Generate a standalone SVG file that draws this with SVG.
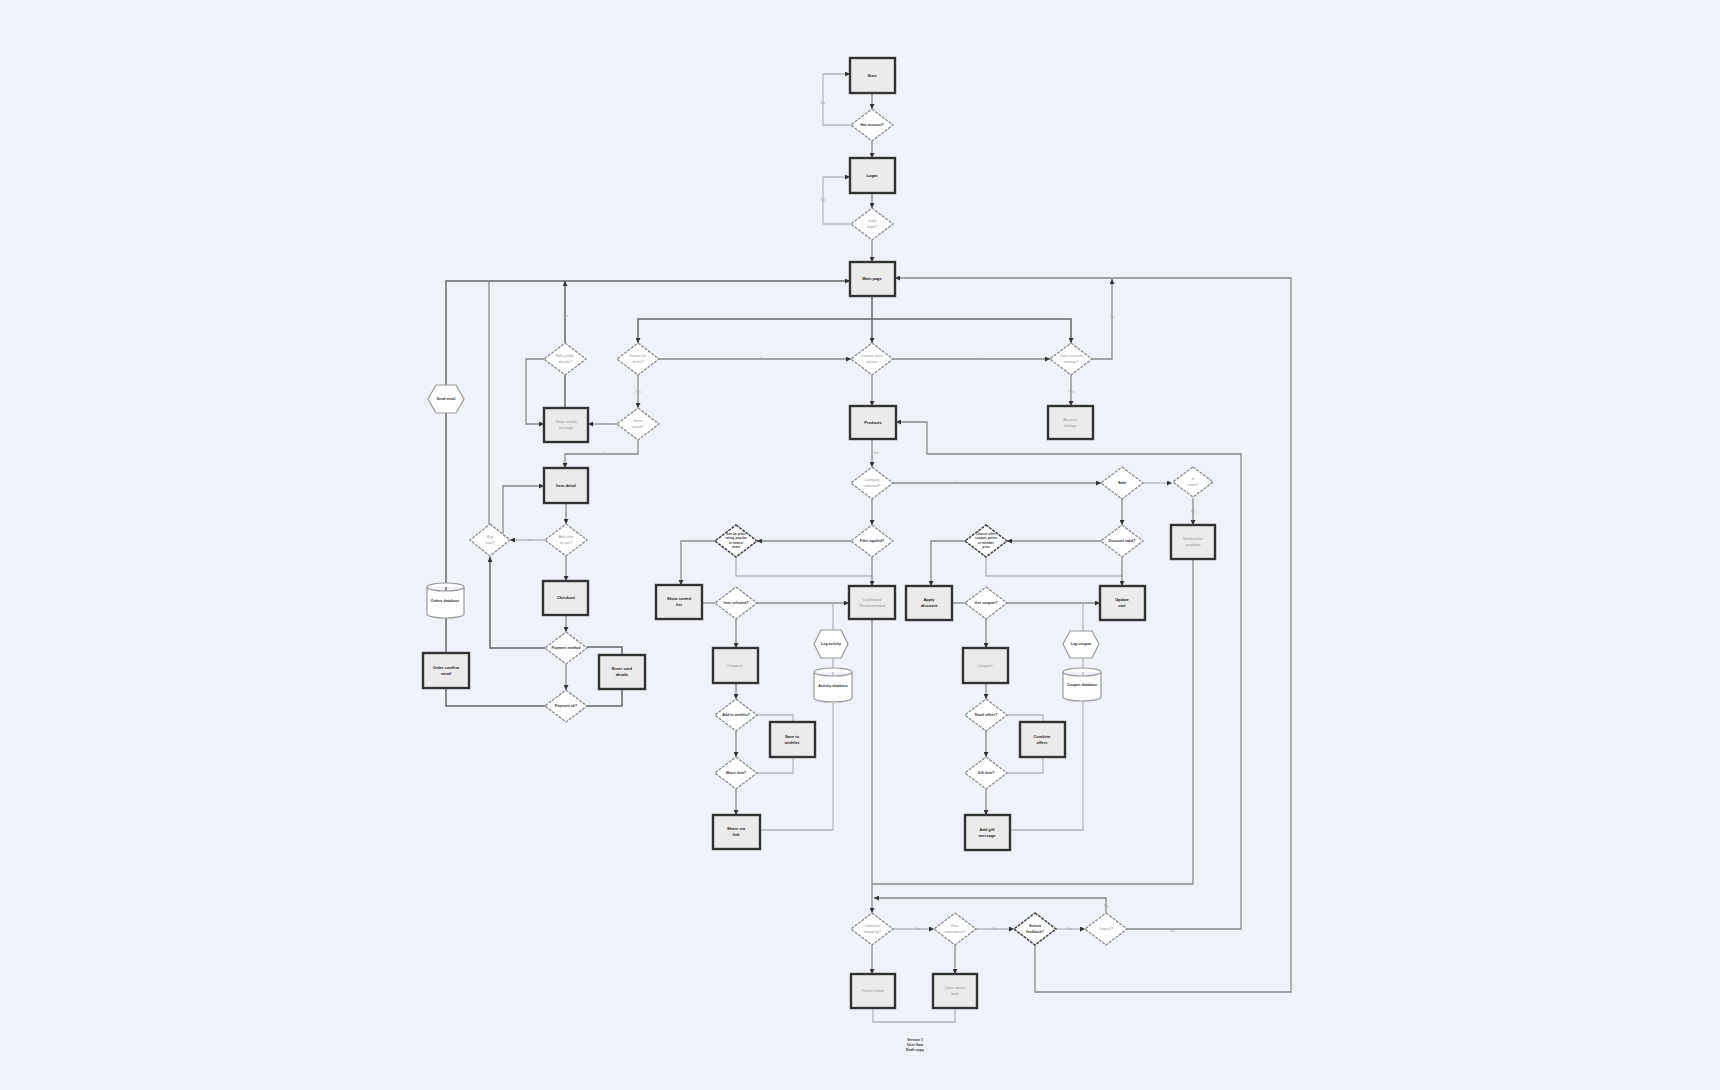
<svg xmlns="http://www.w3.org/2000/svg" width="1720" height="1090" viewBox="0 0 1720 1090">
<defs>
<marker id="ar" viewBox="0 0 6 6" refX="6" refY="3" markerWidth="5" markerHeight="5" markerUnits="userSpaceOnUse" orient="auto"><path d="M0,0 L6,3 L0,6 z" fill="#333"/></marker>
<style>
.box{fill:#ebebeb;stroke:#333;stroke-width:2.4}
.dia{fill:#fff;stroke:#8c8c8c;stroke-width:1.3;stroke-dasharray:3 1.2}
.diab{fill:#fff;stroke:#444;stroke-width:1.5;stroke-dasharray:3 1}
.hex,.cyl{fill:#fff;stroke:#999;stroke-width:1.2}
.ln{fill:none;stroke:#8a8a8a;stroke-width:1.3}
.lnd{fill:none;stroke:#666;stroke-width:1.5}
.lnl{fill:none;stroke:#b4b8bf;stroke-width:1.3}
text{font-family:"Liberation Sans",Arial,sans-serif;text-anchor:middle;dominant-baseline:middle}
.tb{font-size:4px;font-weight:bold;fill:#222}
.tg{font-size:3.8px;fill:#999}
.td{font-size:3.6px;font-weight:bold;fill:#333}
.ts{font-size:3.1px;font-weight:bold;fill:#333}
.lb{font-size:3.6px;fill:#aaa}
</style>
</defs>
<rect width="1720" height="1090" fill="#eff2f8"/>

<g id="connectors">
<path class="ln" d="M872,93 V109" marker-end="url(#ar)"/>
<path class="lnl" d="M851,125 H823 V74 H850" marker-end="url(#ar)"/>
<path class="ln" d="M872,141 V158" marker-end="url(#ar)"/>
<path class="ln" d="M872,193 V208" marker-end="url(#ar)"/>
<path class="lnl" d="M851,224 H823 V177 H850" marker-end="url(#ar)"/>
<path class="ln" d="M872,240 V262" marker-end="url(#ar)"/>
<path class="lnd" d="M872,296 V343" marker-end="url(#ar)"/>
<path class="lnd" d="M872,319 H638 V343" marker-end="url(#ar)"/>
<path class="lnd" d="M872,319 H1071 V343" marker-end="url(#ar)"/>
<path class="lnd" d="M446,653 V281 H850" marker-end="url(#ar)"/>
<path class="ln" d="M489,524 V281"/>
<path class="lnd" d="M565,343 V281" marker-end="url(#ar)"/>
<path class="lnd" d="M565,375 V408"/>
<path class="ln" d="M544,359 H526 V424 H544" marker-end="url(#ar)"/>
<path class="ln" d="M638,375 V408" marker-end="url(#ar)"/>
<path class="ln" d="M617,424 H588" marker-end="url(#ar)"/>
<path class="ln" d="M638,440 V454 H565 V468" marker-end="url(#ar)"/>
<path class="ln" d="M659,359 H851" marker-end="url(#ar)"/>
<path class="ln" d="M893,359 H1050" marker-end="url(#ar)"/>
<path class="ln" d="M1092,359 H1112 V279" marker-end="url(#ar)"/>
<path class="ln" d="M1071,375 V406" marker-end="url(#ar)"/>
<path class="ln" d="M1035,945 V992 H1291 V278 H895" marker-end="url(#ar)"/>
<path class="ln" d="M872,375 V406" marker-end="url(#ar)"/>
<path class="ln" d="M872,439 V467" marker-end="url(#ar)"/>
<path class="ln" d="M893,483 H1101" marker-end="url(#ar)"/>
<path class="lnl" d="M1143,483 H1172" marker-end="url(#ar)"/>
<path class="ln" d="M1193,498 V525" marker-end="url(#ar)"/>
<path class="ln" d="M1193,559 V884 H872"/>
<path class="ln" d="M1122,499 V525" marker-end="url(#ar)"/>
<path class="ln" d="M872,499 V525" marker-end="url(#ar)"/>
<path class="ln" d="M851,541 H757" marker-end="url(#ar)"/>
<path class="ln" d="M715,541 H681 V585" marker-end="url(#ar)"/>
<path class="lnl" d="M736,557 V576 H872"/>
<path class="ln" d="M872,557 V586" marker-end="url(#ar)"/>
<path class="ln" d="M702,603 H715"/>
<path class="ln" d="M757,603 H849" marker-end="url(#ar)"/>
<path class="ln" d="M736,619 V648" marker-end="url(#ar)"/>
<path class="ln" d="M736,683 V699" marker-end="url(#ar)"/>
<path class="lnl" d="M757,715 H793 V722"/>
<path class="lnl" d="M757,773 H793 V757"/>
<path class="ln" d="M736,731 V757" marker-end="url(#ar)"/>
<path class="ln" d="M736,789 V815" marker-end="url(#ar)"/>
<path class="lnl" d="M833,603 V830 H760"/>
<path class="ln" d="M872,619 V913" marker-end="url(#ar)"/>
<path class="ln" d="M1101,541 H1007" marker-end="url(#ar)"/>
<path class="ln" d="M965,541 H931 V586" marker-end="url(#ar)"/>
<path class="lnl" d="M986,557 V576 H1122"/>
<path class="ln" d="M1122,557 V586" marker-end="url(#ar)"/>
<path class="ln" d="M952,603 H965"/>
<path class="ln" d="M1006,603 H1100" marker-end="url(#ar)"/>
<path class="ln" d="M986,619 V648" marker-end="url(#ar)"/>
<path class="ln" d="M986,683 V699" marker-end="url(#ar)"/>
<path class="lnl" d="M1007,715 H1043 V722"/>
<path class="lnl" d="M1007,773 H1043 V757"/>
<path class="ln" d="M986,731 V757" marker-end="url(#ar)"/>
<path class="ln" d="M986,789 V815" marker-end="url(#ar)"/>
<path class="lnl" d="M1083,603 V830 H1010"/>
<path class="ln" d="M566,503 V524" marker-end="url(#ar)"/>
<path class="lnl" d="M545,540 H510" marker-end="url(#ar)"/>
<path class="ln" d="M503,534 V486 H544" marker-end="url(#ar)"/>
<path class="ln" d="M566,556 V581" marker-end="url(#ar)"/>
<path class="ln" d="M566,615 V632" marker-end="url(#ar)"/>
<path class="lnd" d="M545,648 H490 V557" marker-end="url(#ar)"/>
<path class="lnd" d="M587,647 H622 V655"/>
<path class="lnd" d="M587,706 H622 V689"/>
<path class="ln" d="M566,664 V690" marker-end="url(#ar)"/>
<path class="lnd" d="M545,706 H446 V688"/>
<path class="ln" d="M1106,913 V898 H874" marker-end="url(#ar)"/>
<path class="lnl" d="M893,929 H934" marker-end="url(#ar)"/>
<path class="lnl" d="M976,929 H1014" marker-end="url(#ar)"/>
<path class="lnl" d="M1056,929 H1085" marker-end="url(#ar)"/>
<path class="ln" d="M1126,929 H1241 V454 H927 V422 H896" marker-end="url(#ar)"/>
<path class="ln" d="M872,945 V974" marker-end="url(#ar)"/>
<path class="ln" d="M955,945 V974" marker-end="url(#ar)"/>
<path class="lnl" d="M873,1008 V1022 H955 V1008"/>
<text class="lb" x="823" y="103">No</text>
<text class="lb" x="823" y="200">No</text>
<text class="lb" x="565" y="316">Yes</text>
<text class="lb" x="638" y="392">Yes</text>
<text class="lb" x="607" y="424">Yes</text>
<text class="lb" x="605" y="454">No</text>
<text class="lb" x="762" y="359">No</text>
<text class="lb" x="980" y="359">No</text>
<text class="lb" x="1112" y="317">No</text>
<text class="lb" x="1071" y="392">Yes</text>
<text class="lb" x="530" y="540">Yes</text>
<text class="lb" x="876" y="453">Yes</text>
<text class="lb" x="958" y="483">No</text>
<text class="lb" x="1193" y="512">No</text>
<text class="lb" x="918" y="929">No</text>
<text class="lb" x="995" y="929">No</text>
<text class="lb" x="1070" y="929">No</text>
<text class="lb" x="1172" y="931">Yes</text>
<text class="lb" x="1106" y="906">No</text>
</g>

<g id="n-start"><rect class="box" x="850" y="58" width="45" height="35"/><text class="tb" x="872" y="76">Start</text></g>
<g id="n-has-account"><polygon class="dia" points="872,109 893,125 872,141 851,125"/><text class="td" x="872" y="125">Has account?</text></g>
<g id="n-login"><rect class="box" x="850" y="158" width="45" height="35"/><text class="tb" x="872" y="176">Login</text></g>
<g id="n-valid"><polygon class="dia" points="872,208 893,224 872,240 851,224"/><text class="tg" x="872" y="221">Valid</text><text class="tg" x="872" y="227">login?</text></g>
<g id="n-main"><rect class="box" x="850" y="262" width="45" height="34"/><text class="tb" x="872" y="279">Main page</text></g>

<g id="n-edit-profile"><polygon class="dia" points="565,343 586,359 565,375 544,359"/><text class="tg" x="565" y="356">Edit profile</text><text class="tg" x="565" y="362">details?</text></g>
<g id="n-search"><polygon class="dia" points="638,343 659,359 638,375 617,359"/><text class="tg" x="638" y="356">Search for</text><text class="tg" x="638" y="362">items?</text></g>
<g id="n-found"><polygon class="dia" points="638,408 659,424 638,440 617,424"/><text class="tg" x="638" y="421">Items</text><text class="tg" x="638" y="427">found?</text></g>
<g id="n-results"><rect class="box" x="544" y="408" width="44" height="34"/><text class="tg" x="566" y="422">Show results</text><text class="tg" x="566" y="428">list page</text></g>
<g id="n-item"><rect class="box" x="544" y="468" width="44" height="35"/><text class="tb" x="566" y="486">Item detail</text></g>
<g id="n-buy"><polygon class="dia" points="490,524 510,540 490,556 470,540"/><text class="tg" x="490" y="537">Buy</text><text class="tg" x="490" y="543">now?</text></g>
<g id="n-add-cart"><polygon class="dia" points="566,524 587,540 566,556 545,540"/><text class="tg" x="566" y="537">Add item</text><text class="tg" x="566" y="543">to cart?</text></g>
<g id="n-checkout"><rect class="box" x="543" y="581" width="45" height="34"/><text class="tb" x="566" y="598">Checkout</text></g>
<g id="n-pay-method"><polygon class="dia" points="566,632 587,648 566,664 545,648"/><text class="td" x="566" y="648">Payment method</text></g>
<g id="n-card"><rect class="box" x="599" y="655" width="46" height="34"/><text class="tb" x="622" y="669">Enter card</text><text class="tb" x="622" y="675">details</text></g>
<g id="n-pay-ok"><polygon class="dia" points="566,690 587,706 566,722 545,706"/><text class="td" x="566" y="706">Payment ok?</text></g>
<g id="n-confirmed"><rect class="box" x="423" y="653" width="46" height="35"/><text class="tb" x="446" y="668">Order confirm</text><text class="tb" x="446" y="674">email</text></g>
<g id="n-send-email"><polygon class="hex" points="428,399 436,385 456,385 464,399 456,413 436,413"/><text class="td" x="446" y="399">Send email</text></g>
<g id="n-orders-db"><path class="cyl" d="M427,587 A18.5,4 0 0 1 464,587 V614 A18.5,4 0 0 1 427,614 Z M427,587 A18.5,4 0 0 0 464,587"/><text class="td" x="445" y="601">Orders database</text></g>

<g id="n-section"><polygon class="dia" points="872,343 893,359 872,375 851,359"/><text class="tg" x="872" y="356">Choose main</text><text class="tg" x="872" y="362">section</text></g>
<g id="n-settings-q"><polygon class="dia" points="1071,343 1092,359 1071,375 1050,359"/><text class="tg" x="1071" y="356">Open account</text><text class="tg" x="1071" y="362">settings?</text></g>
<g id="n-settings"><rect class="box" x="1048" y="406" width="45" height="33"/><text class="tg" x="1070" y="420">Account</text><text class="tg" x="1070" y="426">settings</text></g>
<g id="n-products"><rect class="box" x="850" y="406" width="46" height="33"/><text class="tb" x="873" y="423">Products</text></g>
<g id="n-category"><polygon class="dia" points="872,467 893,483 872,499 851,483"/><text class="tg" x="872" y="480">Category</text><text class="tg" x="872" y="486">selected?</text></g>
<g id="n-sale"><polygon class="dia" points="1122,467 1143,483 1122,499 1101,483"/><text class="tb" x="1122" y="483">Sale</text></g>
<g id="n-stock"><polygon class="dia" points="1193,467 1213,482 1193,497 1173,482"/><text class="tg" x="1193" y="479">In</text><text class="tg" x="1193" y="485">stock?</text></g>
<g id="n-notify"><rect class="box" x="1171" y="525" width="44" height="34"/><text class="tg" x="1193" y="539">Notify when</text><text class="tg" x="1193" y="545">available</text></g>

<g id="n-filter"><polygon class="dia" points="872,525 893,541 872,557 851,541"/><text class="td" x="872" y="541">Filter applied?</text></g>
<g id="n-sort"><polygon class="diab" points="736,525 757,541 736,557 715,541"/><text class="ts" x="736" y="534">Sort by price,</text><text class="ts" x="736" y="538.5">rating, popular</text><text class="ts" x="736" y="543">or newest</text><text class="ts" x="736" y="547.5">items</text></g>
<g id="n-sorted"><rect class="box" x="656" y="585" width="46" height="34"/><text class="tb" x="679" y="599">Show sorted</text><text class="tb" x="679" y="605">list</text></g>
<g id="n-item-sel"><polygon class="dia" points="736,587 757,603 736,619 715,603"/><text class="td" x="736" y="603">Item selected?</text></g>
<g id="n-dashboard"><rect class="box" x="849" y="586" width="46" height="33"/><text class="tg" x="872" y="600">Dashboard</text><text class="tg" x="872" y="606">Recommended</text></g>
<g id="n-log-act"><polygon class="hex" points="814,644 821,630 841,630 848,644 841,658 821,658"/><text class="td" x="831" y="644">Log activity</text></g>
<g id="n-act-db"><path class="cyl" d="M814,672 A19,4 0 0 1 852,672 V698 A19,4 0 0 1 814,698 Z M814,672 A19,4 0 0 0 852,672"/><text class="td" x="833" y="686">Activity database</text></g>
<g id="n-compare"><rect class="box" x="713" y="648" width="45" height="35"/><text class="tg" x="735" y="666">Compare</text></g>
<g id="n-wish-q"><polygon class="dia" points="736,699 757,715 736,731 715,715"/><text class="td" x="736" y="715">Add to wishlist?</text></g>
<g id="n-wish"><rect class="box" x="770" y="722" width="45" height="35"/><text class="tb" x="792" y="737">Save to</text><text class="tb" x="792" y="743">wishlist</text></g>
<g id="n-share-q"><polygon class="dia" points="736,757 757,773 736,789 715,773"/><text class="td" x="736" y="773">Share item?</text></g>
<g id="n-share"><rect class="box" x="713" y="815" width="47" height="34"/><text class="tb" x="736" y="829">Share via</text><text class="tb" x="736" y="835">link</text></g>

<g id="n-discount-q"><polygon class="dia" points="1122,525 1143,541 1122,557 1101,541"/><text class="td" x="1122" y="541">Discount valid?</text></g>
<g id="n-offer"><polygon class="diab" points="986,525 1007,541 986,557 965,541"/><text class="ts" x="986" y="534">Choose offer,</text><text class="ts" x="986" y="538.5">coupon, points</text><text class="ts" x="986" y="543">or member</text><text class="ts" x="986" y="547.5">price</text></g>
<g id="n-apply"><rect class="box" x="906" y="586" width="46" height="34"/><text class="tb" x="929" y="600">Apply</text><text class="tb" x="929" y="606">discount</text></g>
<g id="n-coupon-q"><polygon class="dia" points="986,587 1007,603 986,619 965,603"/><text class="td" x="986" y="603">Use coupon?</text></g>
<g id="n-update"><rect class="box" x="1100" y="586" width="45" height="34"/><text class="tb" x="1122" y="600">Update</text><text class="tb" x="1122" y="606">cart</text></g>
<g id="n-log-coupon"><polygon class="hex" points="1063,644 1070,631 1092,631 1099,644 1092,658 1070,658"/><text class="td" x="1081" y="644">Log coupon</text></g>
<g id="n-coupon-db"><path class="cyl" d="M1063,672 A19,4 0 0 1 1101,672 V697 A19,4 0 0 1 1063,697 Z M1063,672 A19,4 0 0 0 1101,672"/><text class="td" x="1082" y="685">Coupon database</text></g>
<g id="n-coupons"><rect class="box" x="963" y="648" width="45" height="35"/><text class="tg" x="985" y="666">Coupons</text></g>
<g id="n-stack-q"><polygon class="dia" points="986,699 1007,715 986,731 965,715"/><text class="td" x="986" y="715">Stack offers?</text></g>
<g id="n-combine"><rect class="box" x="1020" y="722" width="45" height="35"/><text class="tb" x="1042" y="737">Combine</text><text class="tb" x="1042" y="743">offers</text></g>
<g id="n-gift-q"><polygon class="dia" points="986,757 1007,773 986,789 965,773"/><text class="td" x="986" y="773">Gift item?</text></g>
<g id="n-gift"><rect class="box" x="965" y="815" width="45" height="35"/><text class="tb" x="987" y="830">Add gift</text><text class="tb" x="987" y="836">message</text></g>

<g id="n-continue"><polygon class="dia" points="872,913 893,929 872,945 851,929"/><text class="tg" x="872" y="926">Continue</text><text class="tg" x="872" y="932">shopping?</text></g>
<g id="n-rate"><polygon class="dia" points="955,913 976,929 955,945 934,929"/><text class="tg" x="955" y="926">Rate</text><text class="tg" x="955" y="932">experience?</text></g>
<g id="n-feedback"><polygon class="diab" points="1035,913 1056,929 1035,945 1014,929"/><text class="td" x="1035" y="926">Submit</text><text class="td" x="1035" y="932">feedback?</text></g>
<g id="n-logout"><polygon class="dia" points="1106,913 1127,929 1106,945 1085,929"/><text class="tg" x="1106" y="929">Logout?</text></g>
<g id="n-home"><rect class="box" x="851" y="974" width="44" height="34"/><text class="tg" x="873" y="991">Return home</text></g>
<g id="n-review"><rect class="box" x="933" y="974" width="44" height="34"/><text class="tg" x="955" y="988">Open review</text><text class="tg" x="955" y="994">form</text></g>

<g id="caption"><text class="td" x="915" y="1040">Version 1</text><text class="td" x="915" y="1045">User flow</text><text class="td" x="915" y="1050">Draft copy</text></g>
</svg>
